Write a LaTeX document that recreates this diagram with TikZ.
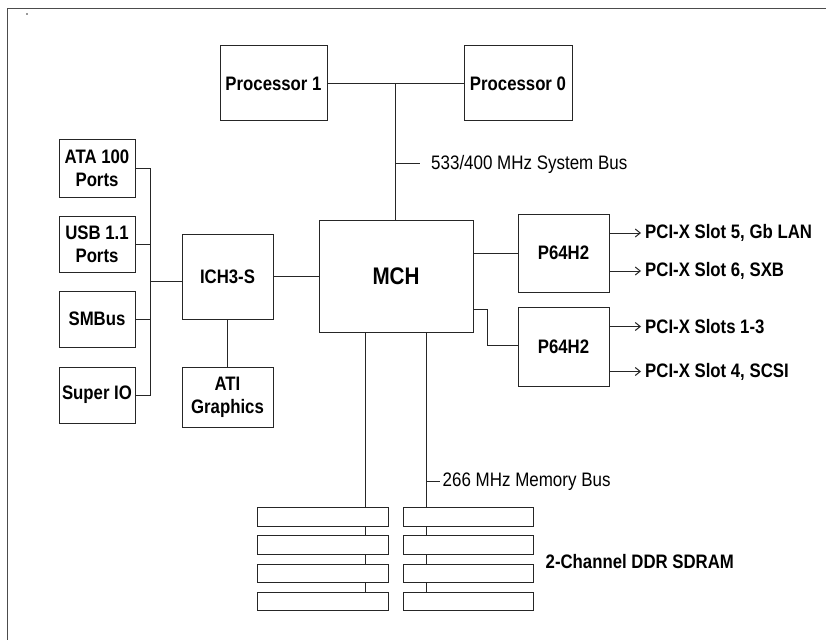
\documentclass[tikz,border=0pt]{standalone}
\usepackage{fontspec}
\setmainfont{Liberation Sans}[FakeStretch=0.87]
\newfontfamily\narrowbold{Liberation Sans Bold}[FakeStretch=0.86]
\usetikzlibrary{arrows.meta}
\begin{document}
\begin{tikzpicture}[x=1pt,y=-1pt,
  box/.style={draw=black!85,line width=1pt,fill=white,rectangle,inner sep=0pt,align=center,
    font=\fontsize{19.5}{23}\narrowbold},
  mod/.style={draw=black!85,line width=1pt,fill=white,rectangle,inner sep=0pt,minimum height=18.5pt},
  wire/.style={draw=black!85,line width=1pt},
  arr/.style={wire,-{Straight Barb[length=5pt,width=8pt,line width=1pt]}},
  lab/.style={anchor=west,inner sep=0pt,font=\fontsize{19.5}{23}\narrowbold},
  blab/.style={anchor=west,inner sep=0pt,font=\fontsize{19.5}{23}\selectfont}]
\useasboundingbox (0,0) rectangle (826,639);
\draw[black!70,line width=1pt] (7,9) rectangle (850,660);
\fill[black!40] (26,13.3) rectangle (27.5,14.8);

% processors
\node[box,minimum width=107pt,minimum height=75pt] (p1) at (273.5,83.5) {Processor 1};
\node[box,minimum width=108pt,minimum height=75pt] (p0) at (518,83.5) {Processor 0};
\node[box,minimum width=154pt,minimum height=112pt,font=\fontsize{24}{28}\narrowbold] (mch) at (396,276) {MCH};
\coordinate (bus) at (395,83.5);
\draw[wire] (p1.east) -- (p0.west);
\draw[wire] (bus) -- (bus |- mch.north);
\coordinate (sbt) at (395,164);
\node[blab] (sbl) at (431,164) {533/400 MHz System Bus};
\draw[wire] (sbt) -- ++(25,0);

% ICH side
\node[box,minimum width=91pt,minimum height=85pt] (ich) at (227.5,276.5) {ICH3-S};
\node[box,minimum width=91pt,minimum height=60pt] (ati) at (227.5,397) {ATI\\Graphics};
\node[box,minimum width=76pt,minimum height=57pt] (ata) at (97,168.5) {ATA 100\\Ports};
\node[box,minimum width=76pt,minimum height=56pt] (usb) at (97,244) {USB 1.1\\Ports};
\node[box,minimum width=76pt,minimum height=56pt] (smb) at (97,319) {SMBus};
\node[box,minimum width=76pt,minimum height=56pt] (sio) at (97,395) {Super IO};
\coordinate (bt) at (150,168.5);
\coordinate (bb) at (150,395);
\coordinate (bi) at (150,281.7);
\draw[wire] (ata.east) -- (bt) -- (bb) -- (sio.east);
\draw[wire] (usb.east) -- (usb.east -| bt);
\draw[wire] (smb.east) -- (smb.east -| bt);
\draw[wire] (bi) -- (bi -| ich.west);
\draw[wire] (ich.south) -- (ati.north);
\draw[wire] (ich.east) -- (ich.east -| mch.west);

% P64H2
\node[box,minimum width=91pt,minimum height=78pt] (pa) at (563.5,253) {P64H2};
\node[box,minimum width=91pt,minimum height=79pt] (pb) at (563.5,346.5) {P64H2};
\draw[wire] (pa.west -| mch.east) -- (pa.west);
\coordinate (k1) at (487,309);
\coordinate (k2) at (487,345);
\draw[wire] (k1 -| mch.east) -- (k1) -- (k2) -- (k2 -| pb.west);
\node[lab] (s5) at (645,233) {PCI-X Slot 5, Gb LAN};
\node[lab] (s6) at (645,271) {PCI-X Slot 6, SXB};
\node[lab] (s13) at (645,326.5) {PCI-X Slots 1-3};
\node[lab] (s4) at (645,371.5) {PCI-X Slot 4, SCSI};
\draw[arr] (s5.west -| pa.east) -- ([xshift=-4pt]s5.west);
\draw[arr] (s6.west -| pa.east) -- ([xshift=-4pt]s6.west);
\draw[arr] (s13.west -| pb.east) -- ([xshift=-4pt]s13.west);
\draw[arr] (s4.west -| pb.east) -- ([xshift=-4pt]s4.west);

% memory
\coordinate (ml) at (365,592);
\coordinate (mr) at (426,592);
\draw[wire] (ml |- mch.south) -- (ml);
\draw[wire] (mr |- mch.south) -- (mr);
\foreach \i/\y in {1/517,2/545,3/573.5,4/601.5}{
  \node[mod,minimum width=131pt] (l\i) at (322.5,\y) {};
  \node[mod,minimum width=130pt] (r\i) at (468,\y) {};
}
\coordinate (mt) at (426,481.7);
\draw[wire] (mt) -- ++(14,0);
\node[blab] (mbl) at (442.5,481.7) {266 MHz Memory Bus};
\node[lab] (ddr) at (545.5,562) {2-Channel DDR SDRAM};
\end{tikzpicture}
\end{document}
